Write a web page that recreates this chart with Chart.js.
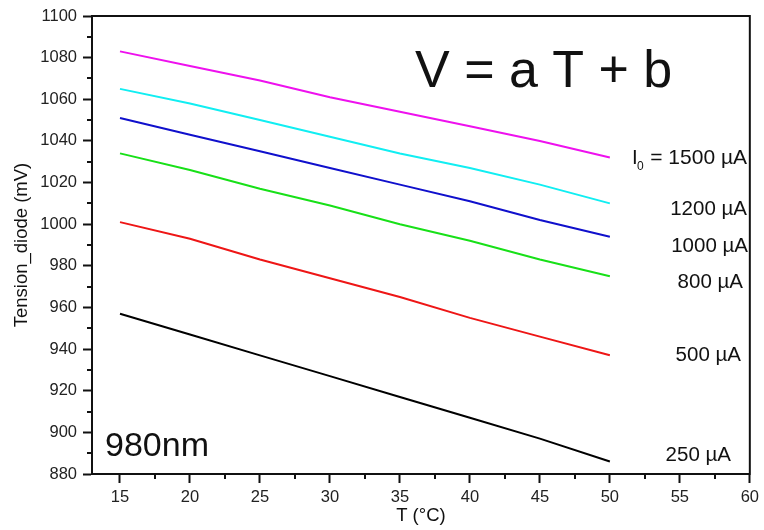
<!DOCTYPE html>
<html>
<head>
<meta charset="utf-8">
<script src="https://cdn.jsdelivr.net/npm/chart.js@4/dist/chart.umd.min.js"></script>
<style>
  html, body { margin: 0; padding: 0; background: #fff; }
  #wrap { width: 764px; height: 530px; position: relative; }
</style>
</head>
<body>
<div id="wrap"><canvas id="c" width="764" height="530"></canvas></div>
<script>
// ---- data ----
const temperatures = [15, 20, 25, 30, 35, 40, 45, 50];
const v1500 = [1083, 1076, 1069, 1061, 1054, 1047, 1040, 1032];
const v1200 = [1065, 1058, 1050, 1042, 1034, 1027, 1019, 1010];
const v1000 = [1051, 1043, 1035, 1027, 1019, 1011, 1002, 994];
const v800  = [1034, 1026, 1017, 1009, 1000, 992, 983, 975];
const v500  = [1001, 993, 983, 974, 965, 955, 946, 937];
const v250  = [957, 947, 937, 927, 917, 907, 897, 886];
const xTickValues = [15, 20, 25, 30, 35, 40, 45, 50, 55, 60];
const xMinorTicks = [17.5, 22.5, 27.5, 32.5, 37.5, 42.5, 47.5, 52.5, 57.5];
const yMinorTicks = [890, 910, 930, 950, 970, 990, 1010, 1030, 1050, 1070, 1090];
const seriesLabels = ['1500 µA', '1200 µA', '1000 µA', '800 µA', '500 µA', '250 µA'];

const FONT = "'Liberation Sans', Arial, sans-serif";
const colors = ['#ee11ee', '#11eef2', '#1010cc', '#18e018', '#ee1616', '#000000'];
const allSeries = [v1500, v1200, v1000, v800, v500, v250];

const datasets = allSeries.map((vals, i) => ({
  label: seriesLabels[i],
  data: temperatures.map((t, k) => ({ x: t, y: vals[k] })),
  borderColor: colors[i],
  backgroundColor: colors[i],
  borderWidth: 2,
  pointRadius: 0,
  tension: 0,
  fill: false
}));

// text annotations (pixel placement in canvas coordinates, right aligned)
const curveLabels = [
  { text: '1200 µA', right: 747, base: 215 },
  { text: '1000 µA', right: 748, base: 252 },
  { text: '800 µA',  right: 743, base: 288 },
  { text: '500 µA',  right: 741, base: 361 },
  { text: '250 µA',  right: 731, base: 461 }
];

const decorPlugin = {
  id: 'decor',
  afterDatasetsDraw(chart) {
    const ctx = chart.ctx;
    const a = chart.chartArea;
    const xs = chart.scales.x, ys = chart.scales.y;
    ctx.save();
    ctx.strokeStyle = '#111';
    ctx.lineWidth = 2;
    ctx.strokeRect(a.left, a.top, a.right - a.left, a.bottom - a.top);
    ctx.beginPath();
    xMinorTicks.forEach(v => {
      const px = Math.round(xs.getPixelForValue(v));
      ctx.moveTo(px, a.bottom);
      ctx.lineTo(px, a.bottom + 5);
    });
    yMinorTicks.forEach(v => {
      const py = Math.round(ys.getPixelForValue(v));
      ctx.moveTo(a.left, py);
      ctx.lineTo(a.left - 5, py);
    });
    ctx.stroke();

    ctx.fillStyle = '#111';
    ctx.textBaseline = 'alphabetic';
    ctx.font = '52px ' + FONT;
    ctx.textAlign = 'left';
    ctx.fillText('V = a T + b', 415, 87);
    ctx.font = '34px ' + FONT;
    ctx.fillText('980nm', 105, 456);
    ctx.font = '20.5px ' + FONT;
    ctx.textAlign = 'right';
    curveLabels.forEach(l => ctx.fillText(l.text, l.right, l.base));
    ctx.textAlign = 'left';
    ctx.fillText('I', 632, 164);
    ctx.font = '12px ' + FONT;
    ctx.fillText('0', 637, 170);
    ctx.font = '21px ' + FONT;
    ctx.textAlign = 'right';
    ctx.fillText('= 1500 µA', 747, 164);
    ctx.restore();
  }
};

new Chart(document.getElementById('c'), {
  type: 'line',
  data: { datasets },
  options: {
    responsive: false,
    animation: false,
    devicePixelRatio: 1,
    layout: { padding: { top: 16, right: 10, left: 0, bottom: 0 } },
    plugins: { legend: { display: false }, tooltip: { enabled: false } },
    scales: {
      x: {
        type: 'linear',
        min: 13,
        max: 60,
        afterBuildTicks: s => { s.ticks = xTickValues.map(v => ({ value: v })); },
        afterFit: s => { s.height = 56; },
        border: { display: true, color: '#111', width: 2 },
        grid: { drawOnChartArea: false, drawTicks: true, tickLength: 9, tickWidth: 2, tickColor: '#111' },
        ticks: { color: '#222', padding: 5, font: { family: FONT, size: 16.5 }, maxRotation: 0, callback: v => String(v) },
        title: { display: true, text: 'T (°C)', color: '#111', font: { family: FONT, size: 18.5 }, padding: { top: 0, bottom: 3 } }
      },
      y: {
        type: 'linear',
        min: 880,
        max: 1100,
        ticks: { stepSize: 20, color: '#222', padding: 6, font: { family: FONT, size: 16.5 }, callback: v => String(v) },
        afterFit: s => { s.width = 92; },
        border: { display: true, color: '#111', width: 2 },
        grid: { drawOnChartArea: false, drawTicks: true, tickLength: 9, tickWidth: 2, tickColor: '#111' },
        title: { display: true, text: 'Tension_diode (mV)', color: '#111', font: { family: FONT, size: 18.5 }, padding: { top: 11, bottom: 0 } }
      }
    }
  },
  plugins: [decorPlugin]
});
</script>
</body>
</html>
